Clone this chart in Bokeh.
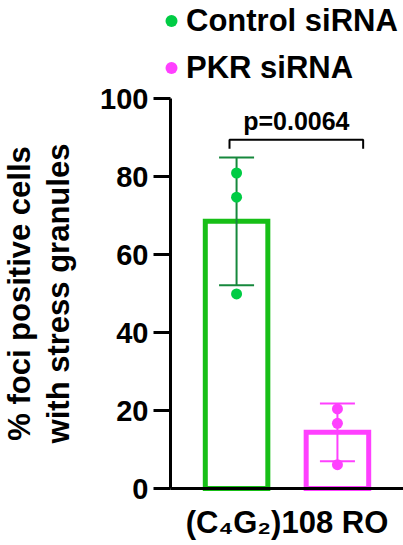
import numpy as np
from bokeh.plotting import figure
from bokeh.models import (ColumnDataSource, Range1d, FixedTicker, LinearAxis,
                          Legend, LegendItem)
from bokeh.core.properties import value
from bokeh.embed import file_html
from bokeh.resources import INLINE

# ---------------- data ----------------
groups = ["Control siRNA", "PKR siRNA"]
control_points = [80.9, 74.7, 49.9]
pkr_points = [20.4, 16.7, 6.1]
p_value_text = "p=0.0064"
bracket_y = 89.4
bracket_drop = 87.1
y_ticks = [0, 20, 40, 60, 80, 100]
y_title_lines = ["% foci positive cells", "with stress granules"]
x_title = "(C\u2084G\u2082)108 RO"

# ---------------- style ----------------
FONT = "Liberation Sans"
bar_colors = ["#17bf17", "#ff40ff"]
err_colors = ["#16883c", "#ff40ff"]
point_colors = ["#00cc44", "#ff40ff"]

W, H = 403, 545
AXIS_X_PX, AXIS_Y_PX = 170, 488     # where the two axes sit on the page
X_LO, X_HI = -0.655, 1.655          # drawn extent of the x axis
PX_PER_X = (W - AXIS_X_PX) / (X_HI - X_LO)
PX_PER_Y = 3.9

p = figure(width=W, height=H, output_backend="svg", toolbar_location=None,
           x_range=Range1d(X_LO - AXIS_X_PX / PX_PER_X, X_HI),
           y_range=Range1d(-(H - AXIS_Y_PX) / PX_PER_Y, AXIS_Y_PX / PX_PER_Y),
           min_border_left=0, min_border_right=0, min_border_top=0,
           min_border_bottom=0)
p.outline_line_color = None
p.grid.visible = False
p.background_fill_color = "white"
p.border_fill_color = "white"

series = [control_points, pkr_points]
xs = list(range(len(groups)))
means = [float(np.mean(s)) for s in series]
sds = [float(np.std(s, ddof=1)) for s in series]

bar_src = ColumnDataSource(dict(x=xs, top=means, color=bar_colors))
p.vbar(x="x", top="top", bottom=0, width=0.62, source=bar_src, fill_color=None,
       line_color="color", line_width=5, line_join="miter")

err_src = ColumnDataSource(dict(
    x=xs,
    upper=[m + s for m, s in zip(means, sds)],
    lower=[m - s for m, s in zip(means, sds)],
    color=err_colors))
p.segment(x0="x", y0="lower", x1="x", y1="upper", source=err_src,
          line_color="color", line_width=2)
p.scatter(x="x", y="upper", marker="dash", size=35, source=err_src,
          line_color="color", line_width=2)
p.scatter(x="x", y="lower", marker="dash", size=35, source=err_src,
          line_color="color", line_width=2)

point_renderers = []
for i, pts in enumerate(series):
    src = ColumnDataSource(dict(x=[xs[i]] * len(pts), y=pts))
    r = p.scatter(x="x", y="y", source=src, size=11, fill_color=point_colors[i],
                  line_color=None)
    point_renderers.append(r)

# significance bracket
bx = [xs[0] - 0.07, xs[0] - 0.07, xs[1] + 0.255, xs[1] + 0.255]
p.line(x=bx, y=[bracket_drop, bracket_y, bracket_y, bracket_drop],
       line_color="black", line_width=2)
p.text(x=[(bx[0] + bx[-1]) / 2], y=[bracket_y + 1.2], text=[p_value_text],
       text_align="center", text_baseline="bottom",
       text_font=value(FONT), text_font_style="bold", text_font_size="25px",
       text_color="black")

# legend at the top
legend = Legend(items=[LegendItem(label=g, renderers=[r])
                       for g, r in zip(groups, point_renderers)],
                location=(156, H - 85.5), orientation="vertical",
                glyph_width=30, glyph_height=35, label_height=35,
                label_standoff=0, spacing=11, padding=0, margin=0,
                border_line_color=None, background_fill_alpha=0,
                label_text_font=FONT, label_text_font_style="bold",
                label_text_font_size="31px", label_text_color="black")
p.add_layout(legend)

# y axis, drawn at the left end of the x axis
yax = p.yaxis[0]
yax.fixed_location = X_LO
yax.ticker = FixedTicker(ticks=y_ticks)
yax.bounds = (0, 100)
yax.axis_line_width = 3
yax.axis_line_color = "black"
yax.major_tick_line_width = 3
yax.major_tick_line_color = "black"
yax.major_tick_out = 17
yax.major_tick_in = 0
yax.minor_tick_out = 0
yax.minor_tick_in = 0
yax.major_label_standoff = 5
yax.major_label_text_font = FONT
yax.major_label_text_font_style = "bold"
yax.major_label_text_font_size = "29px"
yax.major_label_text_color = "black"
yax.axis_label = y_title_lines[1]
yax.axis_label_standoff = 21

title_axis = LinearAxis(ticker=FixedTicker(ticks=[]), bounds=(0, 100),
                        fixed_location=X_LO,
                        axis_line_color=None, major_tick_out=0, major_tick_in=0,
                        minor_tick_out=0, minor_tick_in=0,
                        major_label_text_font_size="0px",
                        axis_label=y_title_lines[0], axis_label_standoff=134)
p.add_layout(title_axis, "left")

for ax in (yax, title_axis):
    ax.axis_label_text_font = FONT
    ax.axis_label_text_font_style = "bold"
    ax.axis_label_text_font_size = "31px"
    ax.axis_label_text_color = "black"

# x axis, drawn at y = 0
xax = p.xaxis[0]
xax.fixed_location = 0
xax.ticker = FixedTicker(ticks=[])
xax.bounds = (X_LO, X_HI)
xax.axis_line_width = 3
xax.axis_line_color = "black"
xax.major_tick_out = 0
xax.major_tick_in = 0
xax.minor_tick_out = 0
xax.minor_tick_in = 0
xax.major_label_text_font_size = "0px"
xax.axis_label = x_title
xax.axis_label_standoff = 16
xax.axis_label_text_font = FONT
xax.axis_label_text_font_style = "bold"
xax.axis_label_text_font_size = "31px"
xax.axis_label_text_color = "black"

open("out.html", "w").write(file_html(p, INLINE))
